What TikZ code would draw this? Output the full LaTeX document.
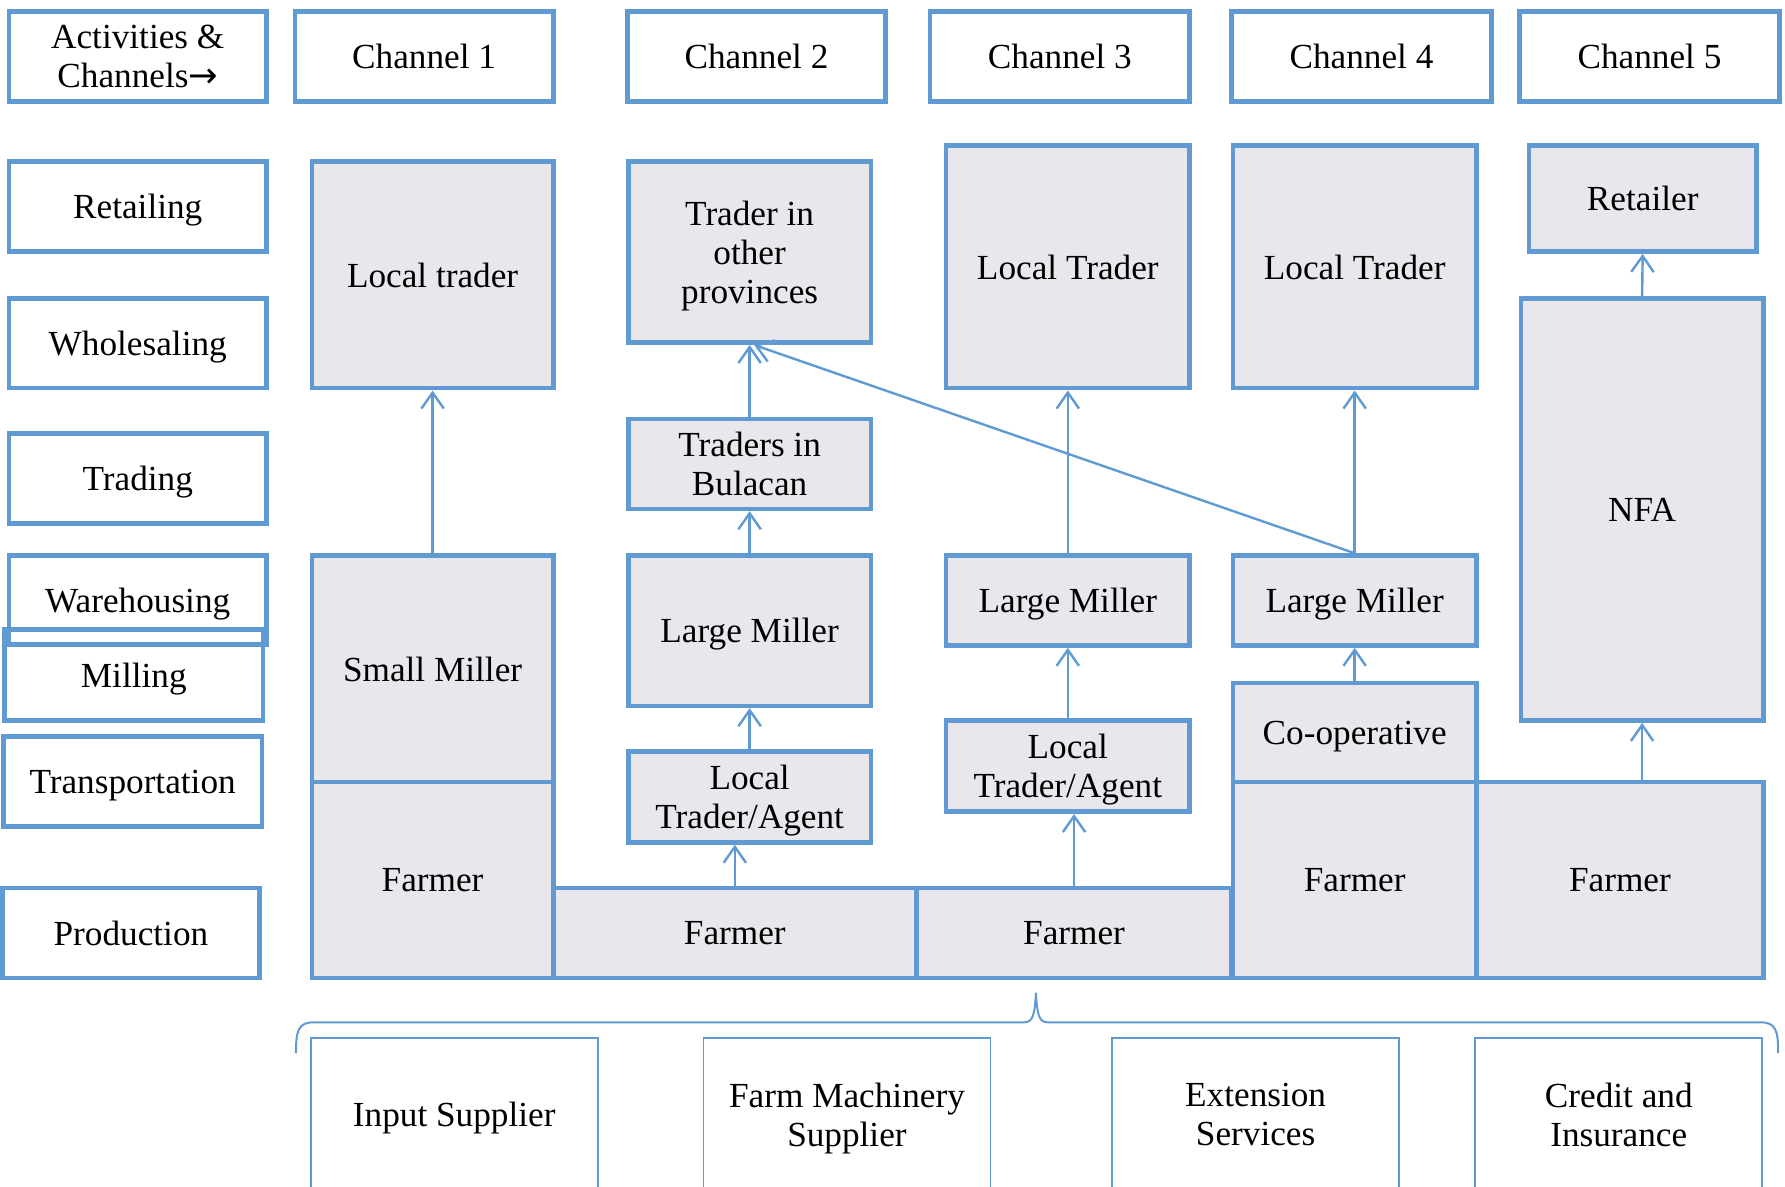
\documentclass[tikz,border=0pt]{standalone}
\usepackage{fontspec}
\setmainfont{Liberation Serif}
\newfontfamily\arrowfont{DejaVu Sans}
\usetikzlibrary{arrows.meta}
\definecolor{bblue}{RGB}{95,155,210}
\definecolor{bfill}{RGB}{233,231,236}
\newcommand\mybox[7]{%
  \node[#1, minimum width={(#5-#3)*0.01cm}, minimum height={(#6-#4)*0.01cm}] (#2) at ({(#3+#5)/2},{(#4+#6)/2}) {#7};}
\tikzset{
  hdr/.style={draw=bblue, line width=1.15pt, fill=white, align=center, inner sep=1pt, text depth=0pt},
  gbox/.style={draw=bblue, line width=1.15pt, fill=bfill, align=center, inner sep=1pt, text depth=0pt},
  sbox/.style={draw=bblue, line width=0.45pt, fill=white, align=center, inner sep=1pt, text depth=0pt},
  flow/.style={draw=bblue, line width=0.6pt, -{Straight Barb[length=4pt,width=5.6pt,line width=0.6pt]}},
  brace/.style={draw=bblue, line width=0.5pt}
}
\begin{document}
\begin{tikzpicture}[x=0.01cm, y=-0.01cm, font=\fontsize{8.8pt}{9.7pt}\selectfont]
\useasboundingbox (0,0) rectangle (1568,1042);
% header row
\mybox{hdr}{act}{8}{10}{234}{89}{Activities \&\\Channels{\arrowfont →}}
\mybox{hdr}{ch1}{259}{10}{486}{89}{Channel 1}
\mybox{hdr}{ch2}{551}{10}{778}{89}{Channel 2}
\mybox{hdr}{ch3}{817}{10}{1045}{89}{Channel 3}
\mybox{hdr}{ch4}{1082}{10}{1310}{89}{Channel 4}
\mybox{hdr}{ch5}{1335}{10}{1563}{89}{Channel 5}
% activities column
\mybox{hdr}{ret}{8}{142}{234}{221}{Retailing}
\mybox{hdr}{whole}{8}{262}{234}{341}{Wholesaling}
\mybox{hdr}{trad}{8}{381}{234}{460}{Trading}
\mybox{hdr}{ware}{8}{488}{234}{566}{Warehousing}
\mybox{hdr,fill=none}{mill}{4}{553}{231}{633}{Milling}
\mybox{hdr}{trans}{3}{647}{230}{726}{Transportation}
\mybox{hdr}{prod}{2}{780}{228}{859}{Production}
% channel 1
\mybox{gbox}{lt1}{274}{142}{486}{341}{Local trader}
\mybox{gbox}{sm1}{274}{488}{486}{687}{Small Miller}
\mybox{gbox}{f1}{274}{687}{486}{859}{Farmer}
% channel 2
\mybox{gbox}{tp2}{552}{142}{765}{301}{Trader in\\other\\provinces}
\mybox{gbox}{tb2}{552}{368}{765}{447}{Traders in\\Bulacan}
\mybox{gbox}{lm2}{552}{488}{765}{620}{Large Miller}
\mybox{gbox}{lta2}{552}{660}{765}{740}{Local\\Trader/Agent}
\mybox{gbox}{f2}{486}{780}{805}{859}{Farmer}
% channel 3
\mybox{gbox}{lt3}{831}{128}{1045}{341}{Local Trader}
\mybox{gbox}{lm3}{831}{488}{1045}{567}{Large Miller}
\mybox{gbox}{lta3}{831}{633}{1045}{713}{Local\\Trader/Agent}
\mybox{gbox}{f3}{805}{780}{1082}{859}{Farmer}
% channel 4
\mybox{gbox}{lt4}{1083}{128}{1297}{341}{Local Trader}
\mybox{gbox}{lm4}{1083}{488}{1297}{567}{Large Miller}
\mybox{gbox}{co4}{1083}{600}{1297}{687}{Co-operative}
\mybox{gbox}{f4}{1083}{687}{1297}{859}{Farmer}
% channel 5
\mybox{gbox}{ret5}{1343}{128}{1543}{221}{Retailer}
\mybox{gbox}{nfa5}{1336}{262}{1549}{633}{NFA}
\mybox{gbox}{f5}{1297}{687}{1549}{859}{Farmer}
% arrows
\draw[flow] (sm1.north) -- (lt1.south);
\draw[flow] (f2.north) -- (f2.north |- lta2.south);
\draw[flow] (lta2.north) -- (lm2.south);
\draw[flow] (lm2.north) -- (tb2.south);
\draw[flow] (tb2.north) -- (tp2.south);
\draw[flow] (lm4.north) -- ([xshift=0.04cm]tp2.south);
\draw[flow] (f3.north) -- (f3.north |- lta3.south);
\draw[flow] (lta3.north) -- (lm3.south);
\draw[flow] (lm3.north) -- (lt3.south);
\draw[flow] (co4.north) -- (lm4.south);
\draw[flow] (lm4.north) -- (lt4.south);
\coordinate (f5top) at (nfa5.south |- f5.north);
\draw[flow] (f5top) -- (nfa5.south);
\draw[flow] (nfa5.north) -- (ret5.south);
% brace
\coordinate (bl) at (260,925);
\coordinate (bp) at (910,872);
\coordinate (br) at (1562,925);
\draw[brace] (bl) .. controls (260,905) and (262,898) .. (276,898) -- (900,898)
  .. controls (907,898) and (909,892) .. (bp)
  .. controls (911,892) and (913,898) .. (920,898) -- (1546,898)
  .. controls (1560,898) and (1562,905) .. (br);
% support services
\mybox{sbox}{is}{273}{912}{525}{1046}{Input Supplier}
\mybox{sbox}{fm}{618}{912}{870}{1046}{Farm Machinery\\Supplier}
\mybox{sbox}{es}{977}{912}{1229}{1046}{Extension\\Services}
\mybox{sbox}{ci}{1296}{912}{1548}{1046}{Credit and\\Insurance}
\end{tikzpicture}
\end{document}
